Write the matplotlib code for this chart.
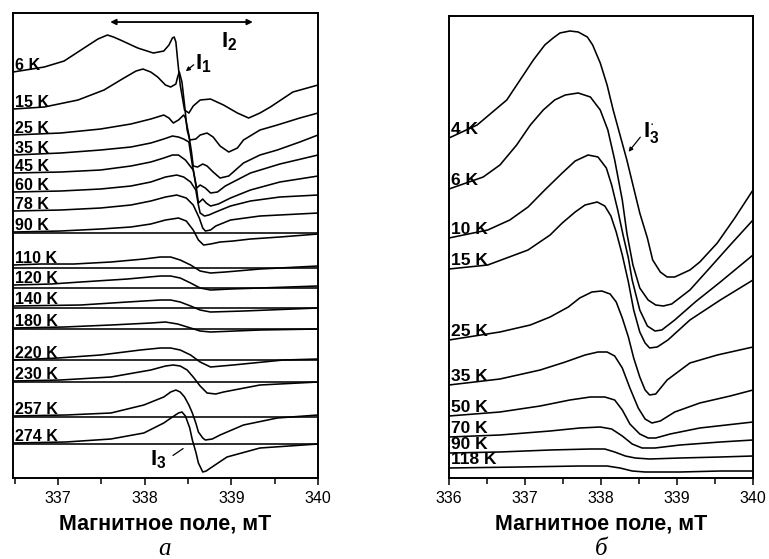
import matplotlib
matplotlib.use('Agg')
import matplotlib.pyplot as plt

plt.rcParams['font.family'] = ['Liberation Sans', 'DejaVu Sans']
plt.rcParams['mathtext.fontset'] = 'custom'
plt.rcParams['mathtext.bf'] = 'Liberation Sans:bold'
plt.rcParams['mathtext.rm'] = 'Liberation Sans'

# ---- panel a: spectra, field (mT) and intensity (a.u., stacked) ----
a_labels = ['6 K', '15 K', '25 K', '35 K', '45 K', '60 K', '78 K', '90 K',
            '110 K', '120 K', '140 K', '180 K', '220 K', '230 K', '257 K', '274 K']

a_field = [
    [336.48,336.84,337.07,337.30,337.46,337.57,337.64,337.72,337.92,338.10,338.22,338.28,338.32,338.34,338.36,338.38,338.41,338.46,338.51,338.56,338.64,338.76,338.91,339.07,339.20,339.33,339.45,339.71,340.00],
    [336.48,336.84,337.23,337.53,337.76,337.90,337.98,338.07,338.15,338.24,338.30,338.36,338.38,338.40,338.43,338.46,338.49,338.52,338.59,338.64,338.72,338.79,338.87,338.97,339.07,339.14,339.33,339.53,339.79,340.00],
    [336.48,337.03,337.49,337.84,338.07,338.22,338.28,338.33,338.39,338.45,338.47,338.51,338.54,338.56,338.61,338.67,338.72,338.79,338.87,338.97,339.14,339.33,339.53,339.79,340.00],
    [336.48,337.03,337.49,337.84,338.07,338.22,338.32,338.39,338.45,338.51,338.55,338.60,338.64,338.70,338.76,338.84,338.93,339.22,339.56,340.00],
    [336.48,337.03,337.49,337.84,338.07,338.22,338.32,338.39,338.47,338.56,338.60,338.62,338.67,338.71,338.76,338.85,338.99,339.22,339.56,340.00],
    [336.48,337.03,337.49,337.84,338.07,338.24,338.37,338.45,338.53,338.59,338.62,338.64,338.69,338.74,338.82,338.99,339.22,339.56,340.00],
    [336.48,337.03,337.49,337.84,338.07,338.24,338.37,338.48,338.56,338.63,338.67,338.70,338.76,338.82,338.99,339.33,340.00],
    [336.48,337.03,337.49,337.84,338.07,338.24,338.39,338.48,338.56,338.62,338.68,338.76,338.87,339.02,339.22,339.56,340.00],
    [336.48,336.80,337.18,337.61,337.99,338.18,338.30,338.41,338.53,338.64,338.76,338.93,339.33,340.00],
    [336.48,336.92,337.26,337.80,338.18,338.30,338.41,338.53,338.64,338.76,338.99,339.33,340.00],
    [336.48,337.26,337.80,338.18,338.30,338.41,338.53,338.64,338.76,339.14,340.00],
    [336.48,337.07,337.61,338.07,338.24,338.38,338.53,338.64,338.76,339.33,340.00],
    [336.48,337.00,337.49,337.95,338.18,338.30,338.41,338.53,338.64,338.76,339.02,339.60,340.00],
    [336.48,337.03,337.61,338.07,338.24,338.33,338.41,338.49,338.56,338.64,338.72,338.82,338.91,339.33,340.00],
    [336.48,337.09,337.61,337.99,338.22,338.30,338.36,338.41,338.46,338.51,338.55,338.59,338.62,338.67,338.70,338.78,338.87,339.14,339.53,340.00],
    [336.48,337.09,337.61,337.99,338.22,338.32,338.39,338.43,338.47,338.52,338.55,338.59,338.62,338.67,338.71,338.76,338.95,339.33,340.00],
]

a_signal = [
    [406,411,417,430,439,443,441,438,430,425,427,433,440,441,436,418,393,368,365,372,378,379,373,365,360,365,371,386,393],
    [369,371,378,388,400,407,409,406,401,393,391,394,401,406,396,373,348,338,339,343,345,341,332,326,330,338,348,353,360,365],
    [343,345,349,354,359,363,360,355,358,363,360,343,326,312,311,314,312,306,300,302,315,323,328,336,343],
    [323,325,328,331,335,339,342,341,339,336,313,290,293,290,285,286,292,305,314,323],
    [305,306,308,312,316,320,323,323,318,308,288,275,279,275,272,274,280,288,296,302],
    [286,287,289,292,296,301,303,301,296,288,273,265,262,263,266,272,277,281,283],
    [267,268,270,273,277,281,283,280,273,260,250,247,248,252,258,262,265],
    [246,247,249,251,254,258,260,257,248,238,233,234,236,237,239,241,244],
    [213,214,214,216,219,221,221,218,213,207,205,206,209,212],
    [193,194,196,199,202,202,200,195,190,188,189,190,192],
    [172,173,176,178,178,176,172,168,166,167,170],
    [150,151,153,155,156,154,150,147,146,148,149],
    [118,120,123,128,130,130,128,123,116,111,113,118,119],
    [97,98,101,108,112,113,112,108,101,92,85,84,86,93,96],
    [62,63,65,73,81,86,88,86,81,73,65,55,46,40,38,39,43,53,60,63],
    [35,36,39,45,55,61,65,66,62,50,38,26,15,6,7,10,21,30,34],
]

# baselines of the stacked layers (90 K ... 274 K)
a_baselines = [245, 210, 190, 170, 149, 118, 96, 61, 34]

# ---- panel b ----
b_labels = ['4 K', '6 K', '10 K', '15 K', '25 K', '35 K', '50 K', '70 K', '90 K', '118 K']

b_field = [
    [336.00,336.37,336.76,337.11,337.26,337.37,337.46,337.59,337.70,337.82,337.89,337.99,338.08,338.16,338.25,338.34,338.42,338.51,338.61,338.68,338.78,338.87,338.97,339.17,339.30,339.53,339.76,340.00],
    [336.00,336.45,336.67,336.89,337.07,337.24,337.39,337.53,337.70,337.86,337.99,338.09,338.18,338.28,338.34,338.42,338.51,338.62,338.72,338.82,338.93,339.17,339.43,339.70,340.00],
    [336.00,336.51,336.80,337.04,337.26,337.49,337.66,337.83,337.96,338.07,338.14,338.22,338.29,338.36,338.41,338.51,338.61,338.71,338.80,338.97,339.24,339.57,340.00],
    [336.00,336.51,337.04,337.33,337.49,337.66,337.79,337.95,338.05,338.13,338.20,338.28,338.36,338.43,338.51,338.58,338.64,338.74,338.88,339.17,339.57,340.00],
    [336.00,336.67,337.07,337.33,337.57,337.72,337.88,338.01,338.12,338.20,338.28,338.36,338.43,338.51,338.58,338.64,338.72,338.87,339.17,339.53,340.00],
    [336.00,336.67,337.20,337.53,337.79,337.96,338.08,338.18,338.28,338.38,338.49,338.58,338.67,338.78,338.97,339.30,339.70,340.00],
    [336.00,336.67,337.20,337.59,337.86,338.05,338.18,338.28,338.38,338.51,338.62,338.72,338.91,339.30,340.00],
    [336.00,336.67,337.33,337.72,337.99,338.14,338.28,338.41,338.54,338.71,339.04,339.57,340.00],
    [336.00,336.67,337.33,337.86,338.05,338.18,338.32,338.45,338.64,339.04,339.57,340.00],
    [336.00,336.93,337.72,338.08,338.25,338.41,338.58,339.04,339.57,340.00],
]

b_signal = [
    [340,353,378,418,433,440,445,447,446,441,433,415,393,368,343,318,293,265,240,218,206,201,201,208,216,235,260,288],
    [289,301,313,333,353,368,378,383,385,381,368,348,318,278,245,213,190,178,173,172,174,188,210,233,258],
    [240,248,258,271,288,305,317,323,321,310,293,268,243,220,198,168,152,147,148,158,176,196,223],
    [209,213,228,243,255,266,273,276,272,262,246,223,196,168,146,135,130,131,138,158,178,198],
    [138,146,153,161,171,180,186,187,184,176,160,141,120,101,88,83,84,98,115,123,131],
    [93,99,108,116,123,126,126,122,110,90,70,59,55,57,66,75,82,88],
    [62,66,72,78,81,81,78,68,54,44,40,40,44,50,56],
    [41,43,47,50,51,49,42,34,30,30,33,36,38],
    [25,26,28,29,29,26,22,20,19,20,21,22],
    [10,11,12,12,10,7,6,6,7,7],
]

fig = plt.figure(figsize=(7.69, 5.59), dpi=100)
ax1 = fig.add_axes([0.0169, 0.1449, 0.3966, 0.8318])
ax2 = fig.add_axes([0.5839, 0.1449, 0.3953, 0.8265])

lw = 1.15
for ax in (ax1, ax2):
    for s in ax.spines.values():
        s.set_linewidth(1.4)
    ax.set_yticks([])
    ax.tick_params(axis='x', direction='out', length=5, width=1.1, labelsize=11.5, pad=4)
    ax.tick_params(axis='x', which='minor', direction='out', length=4, width=1.1)
    ax.set_xlabel('Магнитное поле, мТ', fontsize=15.5, fontweight='bold', labelpad=6)

# panel a
for b in a_baselines:
    ax1.axhline(b, color='black', lw=lw)
for lab, f, s in zip(a_labels, a_field, a_signal):
    ax1.plot(f, s, color='black', lw=lw)
    ax1.text(336.50, s[0] + 2.5, lab, fontsize=11.5, fontweight='bold', va='baseline', ha='left')
ax1.set_xlim(336.48, 340)
ax1.set_ylim(0, 465)
ax1.set_xticks([337, 338, 339, 340])
ax1.set_xticks([336.5, 337.5, 338.5, 339.5], minor=True)

ax1.annotate('', xy=(337.57, 456), xytext=(339.28, 456),
             arrowprops=dict(arrowstyle='<|-|>', color='black', lw=1.3, mutation_scale=8))
ax1.text(338.98, 436, r'$\mathbf{I}_\mathbf{2}$', fontsize=16, ha='center', va='center')
ax1.text(338.68, 414, r'$\mathbf{I}_\mathbf{1}$', fontsize=16, ha='center', va='center')
ax1.annotate('', xy=(338.45, 405), xytext=(338.59, 415),
             arrowprops=dict(arrowstyle='-|>', color='black', lw=0.9, mutation_scale=6))
ax1.text(338.16, 18, r'$\mathbf{I}_\mathbf{3}$', fontsize=16, ha='center', va='center')
ax1.annotate('', xy=(338.47, 31), xytext=(338.30, 21),
             arrowprops=dict(arrowstyle='-', color='black', lw=0.9))

# panel b
for lab, f, s in zip(b_labels, b_field, b_signal):
    ax2.plot(f, s, color='black', lw=lw)
    ax2.text(336.03, s[0] + 4, lab, fontsize=12.5, fontweight='bold', va='baseline', ha='left')
ax2.set_xlim(336, 340)
ax2.set_ylim(0, 462)
ax2.set_xticks([336, 337, 338, 339, 340])
ax2.set_xticks([336.5, 337.5, 338.5, 339.5], minor=True)

ax2.text(338.66, 345, r'$\mathbf{I}_\mathbf{3}^{\cdot}$', fontsize=16, ha='center', va='center')
ax2.annotate('', xy=(338.34, 324), xytext=(338.54, 343),
             arrowprops=dict(arrowstyle='-|>', color='black', lw=0.9, mutation_scale=6))

fig.text(0.2145, 0.008, 'а', fontsize=18, family='Liberation Serif', style='italic', ha='center', va='baseline')
fig.text(0.7815, 0.008, 'б', fontsize=18, family='Liberation Serif', style='italic', ha='center', va='baseline')

fig.savefig('out.png', dpi=100)
